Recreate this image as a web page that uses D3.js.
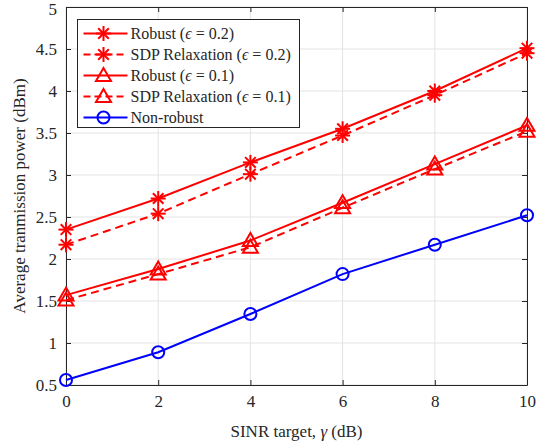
<!DOCTYPE html>
<html lang="en">
<head>
<meta charset="UTF-8">
<script src="https://d3js.org/d3.v7.min.js"></script>
<style>
  body { margin: 0; background: #fff; }
</style>
</head>
<body>
<div id="chart"></div>
<script>
    // values
    var sinr = [0, 2, 4, 6, 8, 10];
    var robust02 = [2.35, 2.72, 3.15, 3.55, 4.00, 4.51];
    var sdp02 = [2.17, 2.54, 3.01, 3.47, 3.95, 4.45];
    var robust01 = [1.57, 1.88, 2.22, 2.67, 3.13, 3.59];
    var sdp01 = [1.51, 1.82, 2.14, 2.61, 3.07, 3.52];
    var nonRobust = [0.56, 0.89, 1.345, 1.82, 2.17, 2.52];
    var xTicks = [0, 2, 4, 6, 8, 10];
    var yTicks = [0.5, 1, 1.5, 2, 2.5, 3, 3.5, 4, 4.5, 5];

    var series = [
        {name: "Robust", eps: "0.2", values: robust02, color: "#ff0000", dash: null, marker: "star"},
        {name: "SDP Relaxation", eps: "0.2", values: sdp02, color: "#ff0000", dash: "8,5", marker: "star"},
        {name: "Robust", eps: "0.1", values: robust01, color: "#ff0000", dash: null, marker: "tri"},
        {name: "SDP Relaxation", eps: "0.1", values: sdp01, color: "#ff0000", dash: "8,5", marker: "tri"},
        {name: "Non-robust", eps: null, values: nonRobust, color: "#0000ff", dash: null, marker: "circle"}
    ];

    var FONT = "'Liberation Serif', 'Times New Roman', serif";
    var W = 546, H = 443;
    var margin = {top: 7, right: 19, bottom: 58, left: 66},
        width = W - margin.left - margin.right,
        height = H - margin.top - margin.bottom;

    var x = d3.scaleLinear().domain([0, 10]).range([0, width]);
    var y = d3.scaleLinear().domain([0.5, 5]).range([height, 0]);

    var svg = d3.select("#chart").append("svg")
        .attr("width", W).attr("height", H);
    var g = svg.append("g")
        .attr("transform", "translate(" + margin.left + "," + margin.top + ")");

    // grid
    g.append("g").selectAll("line").data(xTicks).join("line")
        .attr("x1", function(d) { return x(d); }).attr("x2", function(d) { return x(d); })
        .attr("y1", 0).attr("y2", height)
        .attr("stroke", "#e3e3e3").attr("stroke-width", 1);
    g.append("g").selectAll("line").data(yTicks).join("line")
        .attr("y1", function(d) { return y(d); }).attr("y2", function(d) { return y(d); })
        .attr("x1", 0).attr("x2", width)
        .attr("stroke", "#e3e3e3").attr("stroke-width", 1);

    // axes
    g.append("g").attr("transform", "translate(0," + height + ")")
        .call(d3.axisBottom(x).tickValues(xTicks).tickSizeInner(-5).tickSizeOuter(0).tickPadding(10));
    g.append("g")
        .call(d3.axisLeft(y).tickValues(yTicks).tickFormat(d3.format("~g")).tickSizeInner(-5).tickSizeOuter(0).tickPadding(9));
    g.append("g").attr("transform", "translate(" + width + ",0)")
        .call(d3.axisRight(y).tickValues(yTicks).tickSizeInner(-5).tickSizeOuter(0).tickFormat(""));
    g.append("g")
        .call(d3.axisTop(x).tickValues(xTicks).tickSizeInner(-5).tickSizeOuter(0).tickFormat(""));
    g.selectAll(".domain, .tick line").attr("stroke", "#262626");
    g.selectAll(".tick text")
        .style("font-family", FONT).style("font-size", "17px").attr("fill", "#262626");
    g.selectAll(".tick text").filter(function(d) { return d === 5; }).attr("dy", "0.42em");

    // lines
    var line = d3.line()
        .x(function(d, i) { return x(sinr[i]); })
        .y(function(d) { return y(d); });

    function drawMarker(sel, type, color, cx, cy) {
        if (type === "star") {
            var r = 7.5;
            [0, 45, 90, 135].forEach(function(a) {
                var rad = a * Math.PI / 180;
                sel.append("line")
                    .attr("x1", cx - r * Math.cos(rad)).attr("y1", cy - r * Math.sin(rad))
                    .attr("x2", cx + r * Math.cos(rad)).attr("y2", cy + r * Math.sin(rad))
                    .attr("stroke", color).attr("stroke-width", 2);
            });
        } else if (type === "tri") {
            var s = 7.5;
            sel.append("path")
                .attr("d", "M" + cx + "," + (cy - s) + "L" + (cx + s) + "," + (cy + s * 0.72) + "L" + (cx - s) + "," + (cy + s * 0.72) + "Z")
                .attr("fill", "none").attr("stroke", color).attr("stroke-width", 2);
        } else {
            sel.append("circle").attr("cx", cx).attr("cy", cy).attr("r", 6)
                .attr("fill", "none").attr("stroke", color).attr("stroke-width", 2);
        }
    }

    series.forEach(function(s) {
        g.append("path")
            .datum(s.values)
            .attr("d", line)
            .attr("fill", "none")
            .attr("stroke", s.color)
            .attr("stroke-width", 2)
            .attr("stroke-dasharray", s.dash);
        var mg = g.append("g");
        s.values.forEach(function(v, i) {
            drawMarker(mg, s.marker, s.color, x(sinr[i]), y(v));
        });
    });

    // legend
    var lg = svg.append("g").attr("transform", "translate(77.5,19.5)");
    lg.append("rect").attr("width", 222).attr("height", 108)
        .attr("fill", "#fff").attr("stroke", "#262626").attr("stroke-width", 1);
    series.forEach(function(s, i) {
        var yy = 14 + i * 21;
        lg.append("line").attr("x1", 6).attr("x2", 50).attr("y1", yy).attr("y2", yy)
            .attr("stroke", s.color).attr("stroke-width", 2).attr("stroke-dasharray", s.dash ? "7,4" : null);
        drawMarker(lg, s.marker, s.color, 26, yy);
        var t = lg.append("text").attr("x", 53).attr("y", yy + 5)
            .style("font-family", FONT).style("font-size", "16px").attr("fill", "#262626");
        t.append("tspan").text(s.name);
        if (s.eps) {
            t.append("tspan").text(" (");
            t.append("tspan").style("font-style", "italic").text("\u03f5");
            t.append("tspan").text(" = " + s.eps + ")");
        }
    });

    // axis labels
    var xl = svg.append("text")
        .attr("x", margin.left + width / 2).attr("y", 437)
        .attr("text-anchor", "middle")
        .style("font-family", FONT).style("font-size", "17px").attr("fill", "#262626");
    xl.append("tspan").text("SINR target, ");
    xl.append("tspan").style("font-style", "italic").text("\u03b3");
    xl.append("tspan").text(" (dB)");

    svg.append("text")
        .attr("transform", "translate(25," + (margin.top + height / 2) + ") rotate(-90)")
        .attr("text-anchor", "middle")
        .style("font-family", FONT).style("font-size", "17px").attr("fill", "#262626")
        .text("Average tranmission power (dBm)");
</script>
</body>
</html>
